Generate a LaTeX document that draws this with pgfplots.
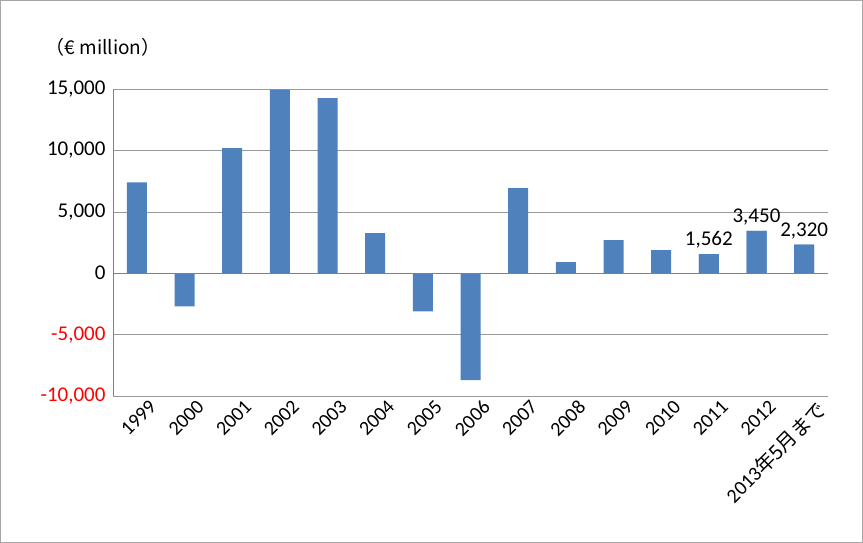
\documentclass[border=0pt]{standalone}
\usepackage{pgfplots}
\pgfplotsset{compat=1.18}
\usepackage{fontspec}
\setmainfont{Carlito}
\newfontfamily\cjk{Noto Sans CJK JP}
\definecolor{barc}{RGB}{79,129,189}
\begin{document}
\begin{tikzpicture}
\useasboundingbox (0,0) rectangle (863pt,543pt);
\draw[gray!70,line width=1pt] (0.5pt,0.5pt) rectangle (862.5pt,542.5pt);
\node at (103pt,496pt) {\fontsize{19}{22}\selectfont\cjk{（}€ million\cjk{）}};
\begin{axis}[at={(113pt,147pt)},anchor=south west,scale only axis,
  width=715pt,height=307pt,
  ymin=-10000,ymax=15000,xmin=-0.5,xmax=14.5,
  scaled y ticks=false,
  axis x line*=bottom, axis y line*=left,
  x axis line style={draw=none},
  y axis line style={gray},
  xtick={0,...,14},
  xticklabels={1999,2000,2001,2002,2003,2004,2005,2006,2007,2008,2009,2010,2011,2012,{2013\cjk{年}5\cjk{月まで}}},
  x tick label style={rotate=45,anchor=north east,xshift=7pt,yshift=-9pt,inner sep=1pt,font=\fontsize{20}{23}\selectfont},
  ytick={-10000,-5000,0,5000,10000,15000},
  yticklabels={{\textcolor{red}{-10,000}},{\textcolor{red}{-5,000}},{0},{5,000},{10,000},{15,000}},
  ymajorgrids, grid style={gray!80},
  major tick length=0pt,
  /pgf/number format/assume math mode=true,
  y tick label style={font=\fontsize{21}{24}\selectfont,xshift=-4pt},
  ybar, bar width=20pt, bar shift=0pt,
  clip=false,
  nodes near coords style={font=\fontsize{21}{24}\selectfont},
]
\addplot[draw=none, fill=barc] coordinates {
(0,7400)(1,-2700)(2,10180)(3,14950)(4,14250)(5,3260)(6,-3100)(7,-8710)(8,6920)(9,900)(10,2690)(11,1870)(12,1562)(13,3450)(14,2320)};
\addplot[draw=none, fill=barc,
  nodes near coords={\pgfmathprintnumber[1000 sep={,}]{\pgfplotspointmeta}},
  every node near coord/.append style={yshift=2pt}] coordinates {(12,1562)(13,3450)(14,2320)};
\draw[gray] (axis cs:-0.5,0) -- (axis cs:14.5,0);
\end{axis}
\end{tikzpicture}
\end{document}
